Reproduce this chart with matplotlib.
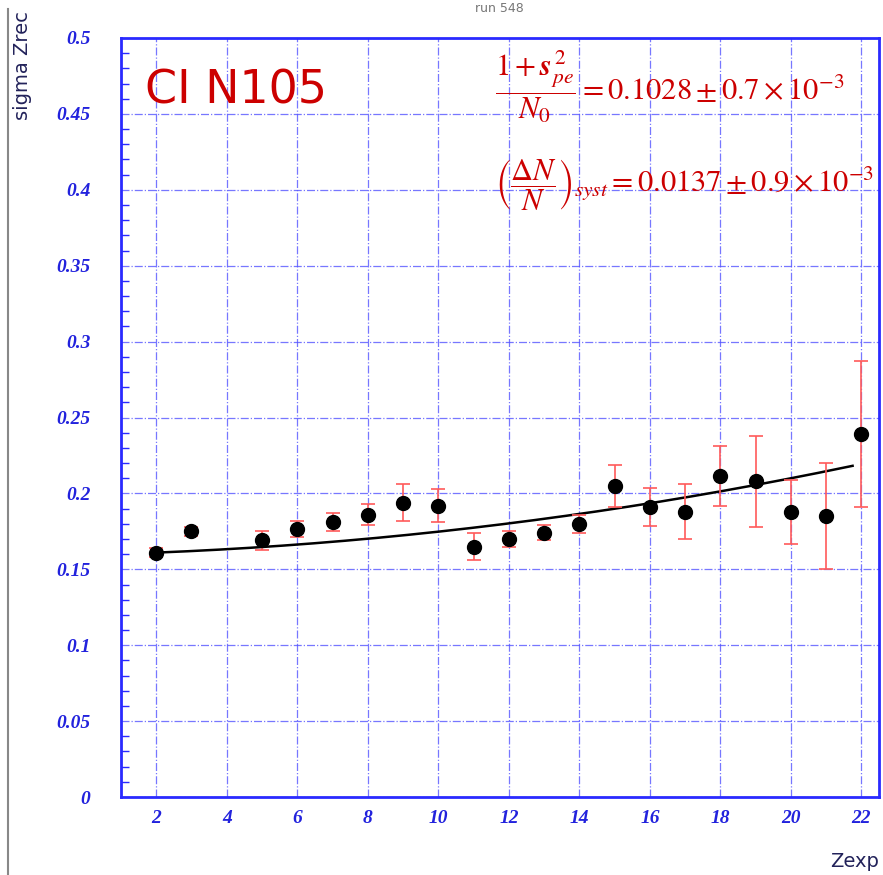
import numpy as np
import matplotlib
matplotlib.use("Agg")
import matplotlib.pyplot as plt
from matplotlib.lines import Line2D
from matplotlib.ticker import MultipleLocator

# data
zexp = [2, 3, 5, 6, 7, 8, 9, 10, 11, 12, 13, 14, 15, 16, 17, 18, 19, 20, 21, 22]
sigma = [0.161, 0.175, 0.169, 0.1765, 0.181, 0.186, 0.194, 0.192, 0.165, 0.170,
         0.174, 0.180, 0.205, 0.191, 0.188, 0.2115, 0.208, 0.188, 0.185, 0.239]
sigma_err = [0.003, 0.003, 0.006, 0.005, 0.006, 0.007, 0.012, 0.011, 0.009, 0.005,
             0.005, 0.006, 0.014, 0.0125, 0.018, 0.020, 0.030, 0.021, 0.035, 0.048]

# fit curve: a + b*(z-2) + c*(z-2)^2
fit_a, fit_b, fit_c = 0.161, 0.000928, 0.0000996
fit_range = (2, 21.75)

BLUE = "#2a2aff"
RED = "#cc0000"

plt.rcParams["mathtext.fontset"] = "stix"

fig = plt.figure(figsize=(8.83, 8.75), dpi=100)
ax = fig.add_axes([0.137, 0.0891, 0.8585, 0.8675])

ax.set_xlim(1, 22.5)
ax.set_ylim(0, 0.5)

# grid
ax.xaxis.set_major_locator(MultipleLocator(2))
ax.yaxis.set_major_locator(MultipleLocator(0.05))
ax.yaxis.set_minor_locator(MultipleLocator(0.01))
ax.grid(True, which="major", color="#5555ff", linestyle="-.", linewidth=0.9, alpha=0.8)

# fit line
zz = np.linspace(fit_range[0], fit_range[1], 200)
ax.plot(zz, fit_a + fit_b * (zz - 2) + fit_c * (zz - 2) ** 2, color="black", lw=1.8, zorder=3)

# points with errors
ax.errorbar(zexp, sigma, yerr=sigma_err, fmt="o", color="black", ms=10,
            ecolor="#ff5a5a", elinewidth=1.2, capsize=5, capthick=1.2, zorder=4)

for s in ax.spines.values():
    s.set_color(BLUE)
    s.set_linewidth(2)

ax.tick_params(which="both", direction="in", colors=BLUE)
ax.tick_params(which="major", length=0)
ax.tick_params(which="minor", length=6, width=1)
ax.tick_params(axis="y", pad=22)
ax.tick_params(axis="x", pad=9)

ax.set_yticks(np.arange(0, 0.501, 0.05))
ax.set_yticklabels(["0", "0.05", "0.1", "0.15", "0.2", "0.25", "0.3", "0.35", "0.4", "0.45", "0.5"])
for lab in ax.get_xticklabels() + ax.get_yticklabels():
    lab.set_family("Liberation Serif")
    lab.set_style("italic")
    lab.set_weight("bold")
    lab.set_fontsize(14)
    lab.set_color("#2222dd")

# labels
fig.text(0.026, 0.987, "sigma Zrec", rotation=90, ha="center", va="top",
         fontsize=14, color="#22225a", family="DejaVu Sans")
fig.text(0.995, 0.015, "Zexp", ha="right", va="center", fontsize=14,
         color="#22225a", family="DejaVu Sans")
fig.text(0.566, 0.99, "run 548", ha="center", va="center", fontsize=9, color="#777777")

# annotations
ax.text(0.032, 0.93, "CI N105", transform=ax.transAxes, fontsize=33, color=RED,
        family="DejaVu Sans", va="center", ha="left")
ax.text(0.493, 0.936, r"$\dfrac{1+\boldsymbol{s}_{pe}^{\,2}}{N_0}=0.1028\pm0.7\times10^{-3}$",
        transform=ax.transAxes, fontsize=22, color=RED, va="center", ha="left")
ax.text(0.493, 0.806, r"$\left(\dfrac{\Delta N}{N}\right)_{syst}=0.0137\pm0.9\times10^{-3}$",
        transform=ax.transAxes, fontsize=22, color=RED, va="center", ha="left")

# left border line of the original image
fig.add_artist(Line2D([0.009, 0.009], [0.0, 0.99], transform=fig.transFigure,
                      color="#888888", lw=1.5))

fig.savefig("out.png", dpi=100)
